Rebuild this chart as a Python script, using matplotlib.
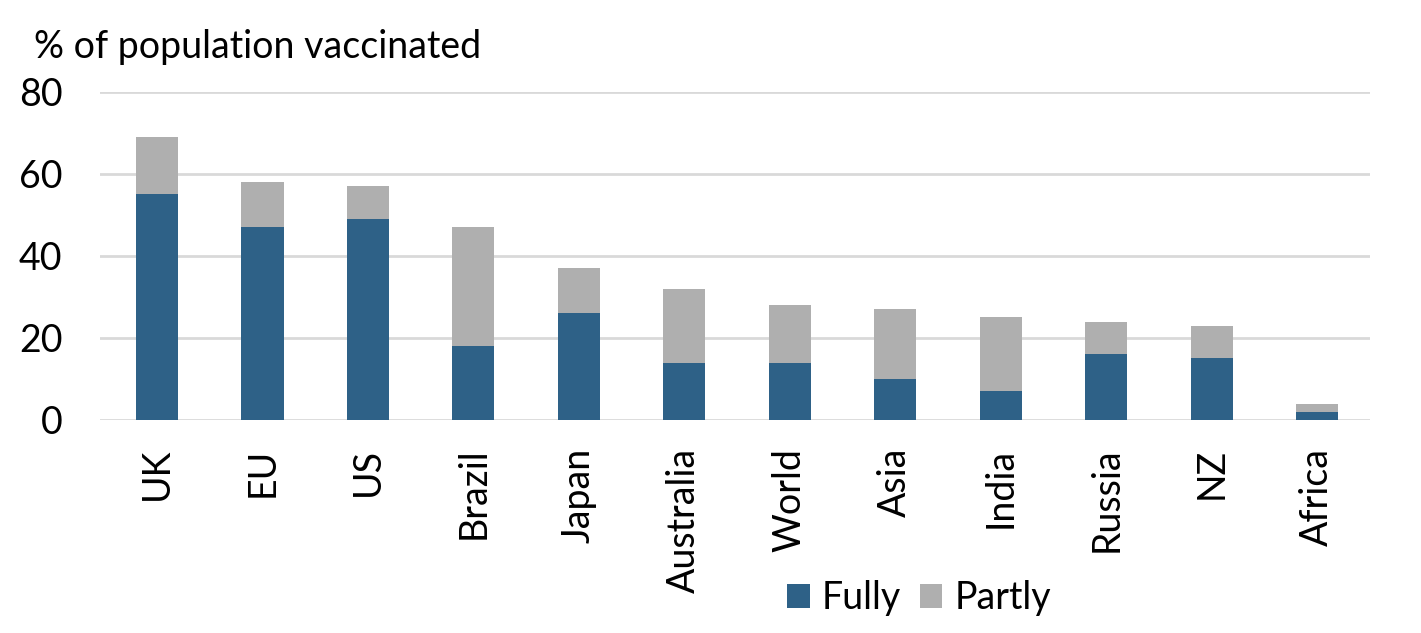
import matplotlib
matplotlib.use("Agg")
import matplotlib.pyplot as plt
import numpy as np

categories = ["UK", "EU", "US", "Brazil", "Japan", "Australia", "World", "Asia", "India", "Russia", "NZ", "Africa"]
fully = [55, 47, 49, 18, 26, 14, 14, 10, 7, 16, 15, 2]
total = [69, 58, 57, 47, 37, 32, 28, 27, 25, 24, 23, 4]
partly = [t - f for t, f in zip(total, fully)]
yticks = [0, 20, 40, 60, 80]

plt.rcParams['font.family'] = ['Lato', 'DejaVu Sans']
FS = 27

fig = plt.figure(figsize=(14.21, 6.33), dpi=100)
ax = fig.add_axes([0.0704, 0.3365, 0.8936, 0.5182])

x = np.arange(len(categories))
blue = "#2E6187"
grey = "#AFAFAF"
ax.bar(x, fully, width=0.4, color=blue, label="Fully", zorder=3)
ax.bar(x, partly, width=0.4, bottom=fully, color=grey, label="Partly", zorder=3)

ax.set_ylim(0, 80)
ax.set_xlim(-0.54, 11.5)
ax.set_yticks(yticks)
ax.set_yticklabels([str(v) for v in yticks], fontsize=FS)
ax.set_xticks(x)
ax.set_xticklabels(categories, rotation=90, fontsize=FS)
ax.tick_params(axis='both', length=0)
ax.tick_params(axis='y', pad=27)
ax.tick_params(axis='x', pad=20)
ax.grid(axis='y', color="#D9D9D9", linewidth=2, zorder=0)
for s in ax.spines.values():
    s.set_visible(False)

fig.text(0.024, 0.925, "% of population vaccinated", fontsize=FS, va='center', ha='left')

lx = (919 / 1421 - 0.0704) / 0.8936
ly = (1 - 598 / 633 - 0.3365) / 0.5182
ax.legend(loc='center', bbox_to_anchor=(lx, ly),
          ncol=2, frameon=False, fontsize=FS, handlelength=0.6, handleheight=0.6,
          handletextpad=0.32, columnspacing=0.5, borderpad=0, borderaxespad=0)

fig.savefig("out.png", dpi=100)
